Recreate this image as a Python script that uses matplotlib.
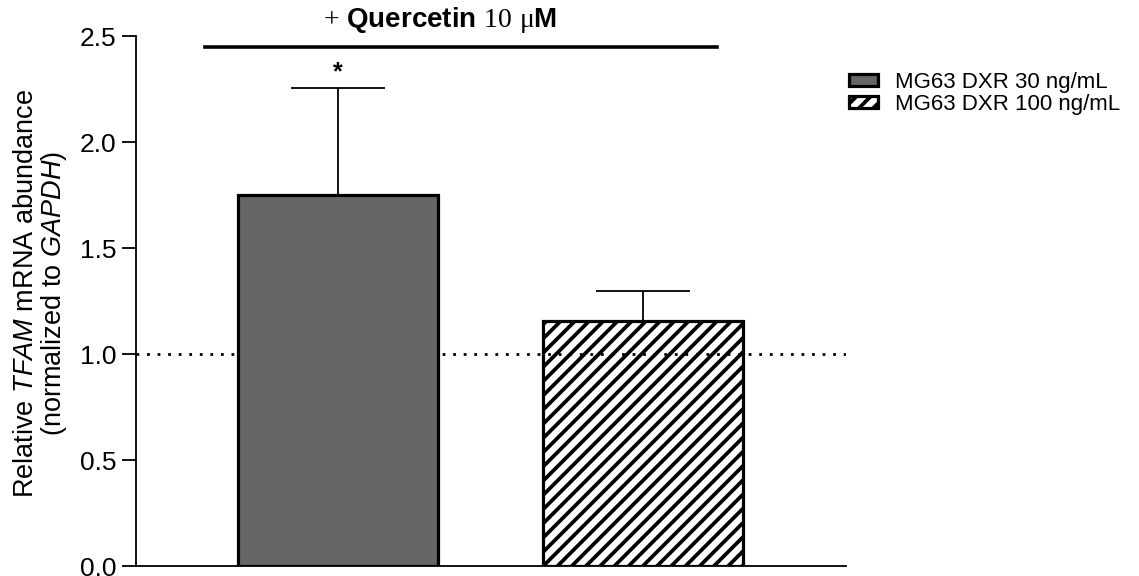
import matplotlib
matplotlib.use("Agg")
import matplotlib.pyplot as plt

# drawn at 128 dpi so the hatch spacing matches; sizes below are scaled by k
k = 100 / 128

plt.rcParams['font.family'] = ['Liberation Sans', 'DejaVu Sans']
plt.rcParams['mathtext.fontset'] = 'custom'
plt.rcParams['mathtext.rm'] = 'Liberation Serif'
plt.rcParams['mathtext.it'] = 'Liberation Sans:italic'
plt.rcParams['hatch.linewidth'] = 2.7 * k

groups = ['MG63 DXR 30 ng/mL', 'MG63 DXR 100 ng/mL']
means = [1.75, 1.155]
sem = [0.505, 0.14]
baseline = 1.0

fig = plt.figure(figsize=(1139 / 128, 576 / 128), dpi=128)
ax = fig.add_axes([136 / 1139, 10 / 576, 710 / 1139, 530 / 576])

x = [0, 1]
w = 0.656
b1 = ax.bar(x[0], means[0], w, color='#666666', edgecolor='black', linewidth=2.3 * k,
            zorder=3, label=groups[0])
b2 = ax.bar(x[1], means[1], w, facecolor='none', edgecolor='black', linewidth=2.3 * k,
            hatch='///', zorder=3, label=groups[1])
ax.errorbar(x, means, yerr=[[0, 0], sem], fmt='none', ecolor='black',
            elinewidth=1.3 * k, capsize=34 * k, capthick=1.3 * k, zorder=2)

ax.axhline(baseline, color='black', linewidth=2 * k, linestyle=(0, (1, 2.8)), zorder=1)

ax.text(x[0], means[0] + sem[0] + 0.015, '*', ha='center', va='bottom', fontsize=18 * k,
        fontweight='bold')

ax.set_xlim(-0.662, 1.666)
ax.set_ylim(0, 2.5)
ax.set_yticks([0, 0.5, 1.0, 1.5, 2.0, 2.5])
ax.set_yticklabels(['0.0', '0.5', '1.0', '1.5', '2.0', '2.5'])
ax.set_xticks([])
ax.tick_params(axis='y', labelsize=19 * k, length=10 * k, width=1.3 * k, pad=4 * k)
for s in ['top', 'right']:
    ax.spines[s].set_visible(False)
for s in ['left', 'bottom']:
    ax.spines[s].set_linewidth(1.3 * k)

ax.set_ylabel('Relative $\\mathit{TFAM}$ mRNA abundance\n(normalized to $\\mathit{GAPDH}$)',
              fontsize=19.5 * k, linespacing=1.0)
ax.yaxis.set_label_coords(-0.095, 0.515)

# bracket line and title on top
fig.lines.append(plt.Line2D([205 / 1139, 717 / 1139], [1 - 47 / 576, 1 - 47 / 576],
                            transform=fig.transFigure, color='black', linewidth=2.6 * k))
fig.text(440 / 1139, 1 - 20 / 576, '$\\mathrm{+}$ Quercetin $\\mathrm{10\\ μ}$M',
         ha='center', va='center', fontsize=20 * k, fontweight='bold')

fig.legend(handles=[b1, b2], labels=groups, loc='upper left',
           bbox_to_anchor=(829 / 1139, 1 - 52 / 576), frameon=False, fontsize=16 * k,
           handlelength=1.3, handleheight=0.45, handletextpad=0.75, labelspacing=0.05)

fig.savefig('out.png', dpi=128)
